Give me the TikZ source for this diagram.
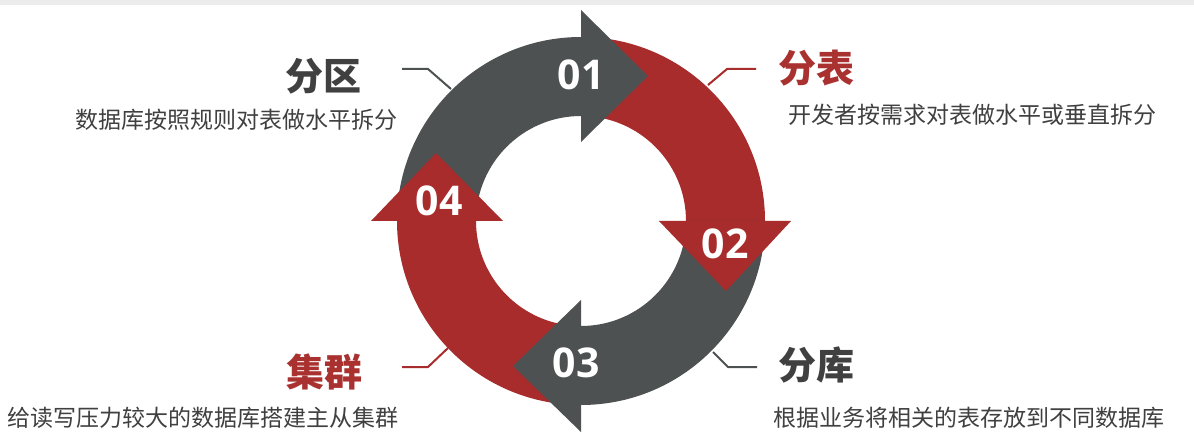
\documentclass[tikz,border=0pt]{standalone}
\usepackage{fontspec}
\usetikzlibrary{calc}
\newfontfamily\cjk{Noto Sans CJK SC}
\newfontfamily\numfont{Open Sans}
\definecolor{ringgray}{HTML}{4D5152}
\definecolor{ringred}{HTML}{A72C2B}
\definecolor{titlegray}{HTML}{404040}
\definecolor{titlered}{HTML}{A93230}
\definecolor{subgray}{HTML}{404040}
\begin{document}
\begin{tikzpicture}[x=1pt,y=1pt,
  num/.style={font=\numfont\bfseries\fontsize{41}{41}\selectfont, text=white, inner sep=0pt},
  ttl/.style={font=\cjk\bfseries\fontsize{38}{38}\selectfont, inner sep=0pt},
  sub/.style={font=\cjk\fontsize{23}{23}\selectfont, text=subgray, inner sep=0pt},
  lead/.style={line width=2pt}]
\useasboundingbox (0,0) rectangle (1194,437);
\fill[white] (0,0) rectangle (1194,437);
\fill[gray!15] (0,432) rectangle (1194,437);
\coordinate (c) at (581,216);
% ring arcs
\fill[ringgray] ($(c)+(180:184)$) arc[start angle=180,end angle=90,radius=184] -- ($(c)+(90:105)$) arc[start angle=90,end angle=180,radius=105] -- cycle;
\fill[ringred] ($(c)+(90:184)$) arc[start angle=90,end angle=0,radius=184] -- ($(c)+(0:105)$) arc[start angle=0,end angle=90,radius=105] -- cycle;
\fill[ringgray] ($(c)+(0:184)$) arc[start angle=0,end angle=-90,radius=184] -- ($(c)+(-90:105)$) arc[start angle=-90,end angle=0,radius=105] -- cycle;
\fill[ringred] ($(c)+(-90:184)$) arc[start angle=-90,end angle=-180,radius=184] -- ($(c)+(-180:105)$) arc[start angle=-180,end angle=-90,radius=105] -- cycle;
% arrow heads
\fill[ringgray] ($(c)+(0,211)$) -- ($(c)+(67,145)$) -- ($(c)+(0,79)$) -- cycle;
\fill[ringred] ($(c)+(78,0)$) -- ($(c)+(145,-70)$) -- ($(c)+(210,0)$) -- cycle;
\fill[ringgray] ($(c)+(0,-79)$) -- ($(c)+(-68,-145)$) -- ($(c)+(0,-211)$) -- cycle;
\fill[ringred] ($(c)+(-210,0)$) -- ($(c)+(-145,68)$) -- ($(c)+(-78,0)$) -- cycle;
% numbers
\node[num] (n1) at ($(c)+(0,146)$) {01};
\node[num] (n2) at ($(c)+(144,-23)$) {02};
\node[num] (n3) at ($(c)+(-5,-142)$) {03};
\node[num] (n4) at ($(c)+(-142,20)$) {04};
% titles and texts
\node[ttl, text=titlegray] (t1) at (323.5,361) {分区};
\node[sub] (s1) at (236,317) {数据库按照规则对表做水平拆分};
\node[ttl, text=titlered] (t2) at (816,369) {分表};
\node[sub] (s2) at (972.5,322) {开发者按需求对表做水平或垂直拆分};
\node[ttl, text=titlegray] (t3) at (816,72) {分库};
\node[sub] (s3) at (968.5,19) {根据业务将相关的表存放到不同数据库};
\node[ttl, text=titlered] (t4) at (324,65) {集群};
\node[sub] (s4) at (202.5,19) {给读写压力较大的数据库搭建主从集群};
% leader lines
\coordinate (l1a) at (402,368); \coordinate (l1b) at (428,368); \coordinate (l1c) at (451,348);
\coordinate (l2a) at (756,368); \coordinate (l2b) at (727,368); \coordinate (l2c) at (708,352);
\coordinate (l3a) at (757,70);  \coordinate (l3b) at (728,70);  \coordinate (l3c) at (713,85);
\coordinate (l4a) at (402,70);  \coordinate (l4b) at (428,70);  \coordinate (l4c) at (448,89);
\draw[lead, ringgray] (l1a) -- (l1b) -- (l1c);
\draw[lead, ringred] (l2a) -- (l2b) -- (l2c);
\draw[lead, ringgray] (l3a) -- (l3b) -- (l3c);
\draw[lead, ringred] (l4a) -- (l4b) -- (l4c);
\end{tikzpicture}
\end{document}
